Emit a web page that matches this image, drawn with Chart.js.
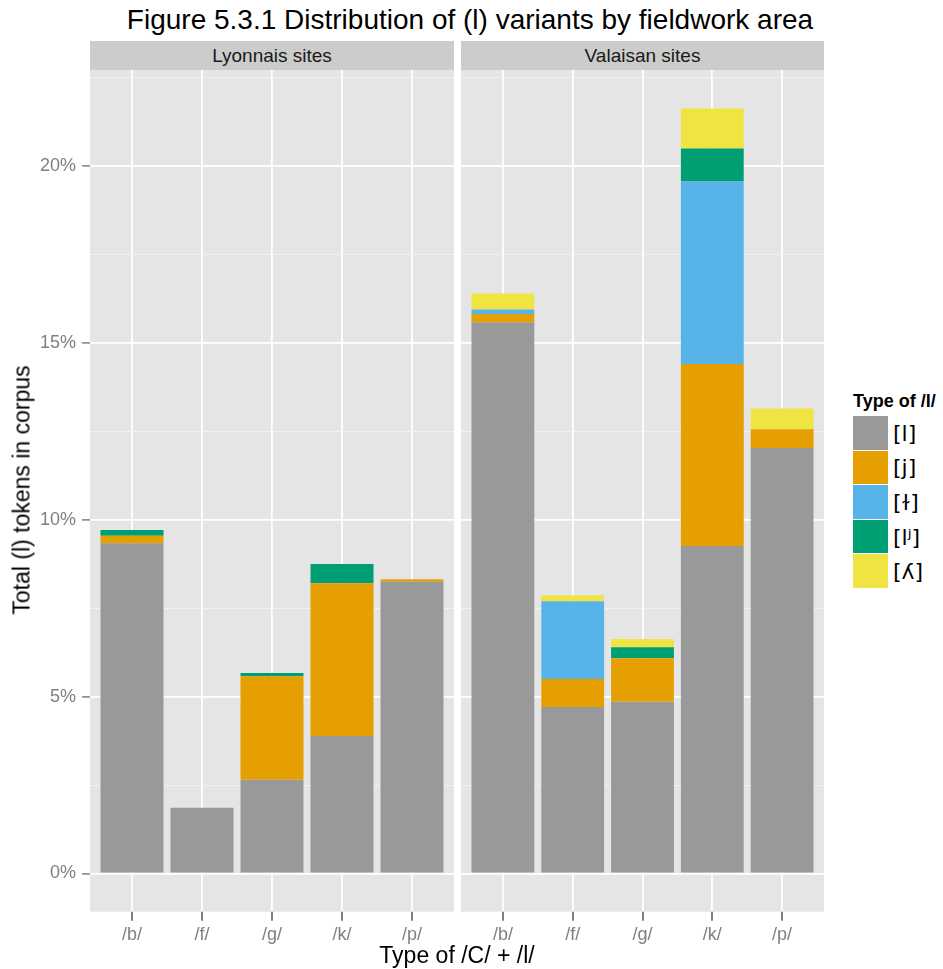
<!DOCTYPE html>
<html>
<head>
<meta charset="utf-8">
<script src="https://cdn.jsdelivr.net/npm/chart.js@4"></script>
<style>
  body { margin: 0; background: #fff; font-family: "Liberation Sans", Arial, sans-serif; }
  #wrap { position: relative; width: 943px; height: 969px; overflow: hidden; }
  .abs { position: absolute; }
  #title { left: 0; width: 940px; top: 4px; text-align: center; font-size: 28px; line-height: 32px; color: #000; }
  .strip { top: 41px; height: 29px; background: #cccccc; color: #1a1a1a; font-size: 19px; line-height: 29px; text-align: center; }
  #ytitle { left: 22px; top: 490px; transform: translate(-50%, -50%) rotate(-90deg); white-space: nowrap; font-size: 23px; color: #000; }
  #xtitle { left: 457px; top: 955px; transform: translate(-50%, -50%); white-space: nowrap; font-size: 23px; color: #000; }
  #legend { left: 853px; top: 390px; }
  #legend .lt { font-weight: bold; font-size: 18px; line-height: 22px; margin-bottom: 4px; }
  #legend .item { display: flex; align-items: center; height: 34.6px; }
  #legend .key { width: 35px; height: 33.6px; margin-bottom: 1px; }
  #legend .lab { margin-left: 5px; font-size: 22px; font-family: "DejaVu Sans", "Liberation Sans", sans-serif; }
  canvas { position: absolute; }
</style>
</head>
<body>
<div id="wrap">
  <div id="title" class="abs">Figure 5.3.1 Distribution of (l) variants by fieldwork area</div>
  <div class="abs strip" style="left:90px;width:364px;">Lyonnais sites</div>
  <div class="abs strip" style="left:461px;width:363px;">Valaisan sites</div>
  <canvas id="lyon" width="454" height="900" style="left:0;top:70px;"></canvas>
  <canvas id="val" width="363" height="900" style="left:461px;top:70px;"></canvas>
  <div id="ytitle" class="abs">Total (l) tokens in corpus</div>
  <div id="xtitle" class="abs">Type of /C/ + /l/</div>
  <div id="legend" class="abs"></div>
</div>
<script>
// Consonant preceding /l/
const categories = ['/b/', '/f/', '/g/', '/k/', '/p/'];
// Realisations of /l/ and their fills
const variants = ['[l]', '[j]', '[ɫ]', '[lʲ]', '[ʎ]'];
const variantColors = ['#999999', '#E69F00', '#56B4E9', '#009E73', '#F0E442'];

// Share of all (l) tokens in the corpus (%), Lyonnais sites
const lyonL      = [9.34, 1.86, 2.65, 3.89, 8.25];
const lyonJ      = [0.21, 0.00, 2.93, 4.32, 0.07];
const lyonDark   = [0.00, 0.00, 0.00, 0.00, 0.00];
const lyonPal    = [0.16, 0.00, 0.09, 0.54, 0.00];
const lyonTurned = [0.00, 0.00, 0.00, 0.00, 0.00];

// Share of all (l) tokens in the corpus (%), Valaisan sites
const valL      = [15.59, 4.71, 4.86, 9.26, 12.03];
const valJ      = [0.23, 0.79, 1.23, 5.15, 0.53];
const valDark   = [0.13, 2.20, 0.00, 5.16, 0.00];
const valPal    = [0.00, 0.00, 0.31, 0.93, 0.00];
const valTurned = [0.45, 0.17, 0.23, 1.13, 0.59];

// Labelled y ticks and the minor grid between them
const yTicks = [0, 5, 10, 15, 20];
const yMinor = [2.5, 7.5, 12.5, 17.5, 22.5];

const FONT = '"Liberation Sans", Arial, sans-serif';

// Grey panel background behind the grid
const panelBg = {
  id: 'panelBg',
  beforeDraw(chart) {
    const { ctx, chartArea: a } = chart;
    ctx.save();
    ctx.fillStyle = '#e5e5e5';
    ctx.fillRect(a.left, a.top, a.right - a.left, a.bottom - a.top);
    ctx.restore();
  }
};

// Short tick marks under the panel at each category position
const xTickMarks = {
  id: 'xTickMarks',
  afterDraw(chart) {
    const { ctx, chartArea: a } = chart;
    const xs = chart.scales.x;
    ctx.save();
    ctx.fillStyle = '#7f7f7f';
    categories.forEach((c, i) => {
      const px = Math.round(xs.getPixelForValue(i + 1));
      ctx.fillRect(px - 1, a.bottom, 2, 9);
    });
    ctx.restore();
  }
};

function zeroPad(s) {
  s.paddingTop = 0; s.paddingBottom = 0; s.paddingLeft = 0; s.paddingRight = 0;
}

function makePanel(id, series, showY) {
  const isMajor = v => yTicks.includes(v);
  const datasets = series.map((vals, k) => ({
    label: variants[k],
    data: vals.map((v, i) => ({ x: i + 1, y: v })),
    backgroundColor: variantColors[k],
    borderWidth: 0,
    barPercentage: 0.9,
    categoryPercentage: 1.0
  }));
  return new Chart(document.getElementById(id), {
    type: 'bar',
    data: { datasets },
    plugins: [panelBg, xTickMarks],
    options: {
      responsive: false,
      animation: false,
      layout: { padding: 0 },
      plugins: { legend: { display: false }, tooltip: { enabled: false } },
      scales: {
        x: {
          type: 'linear',
          stacked: true,
          min: 0.4,
          max: 5.6,
          offset: false,
          afterBuildTicks: s => { s.ticks = categories.map((c, i) => ({ value: i + 1 })); },
          afterFit: s => { s.height = 58.3; zeroPad(s); },
          border: { display: false },
          grid: { offset: false, color: '#ffffff', lineWidth: 1.8, drawTicks: false },
          ticks: {
            autoSkip: false, maxRotation: 0, padding: 13,
            color: '#7f7f7f', font: { size: 18, family: FONT },
            callback: v => categories[v - 1]
          }
        },
        y: {
          stacked: true,
          min: -1.08,
          max: 22.72,
          afterBuildTicks: s => {
            s.ticks = [...yTicks, ...yMinor].sort((a, b) => a - b).map(v => ({ value: v }));
          },
          afterFit: s => { s.width = showY ? 90 : 0; zeroPad(s); },
          border: { display: false },
          grid: {
            color: c => isMajor(c.tick.value) ? '#ffffff' : '#f2f2f2',
            lineWidth: c => isMajor(c.tick.value) ? 1.8 : 0.9,
            tickColor: c => (showY && isMajor(c.tick.value)) ? '#7f7f7f' : 'rgba(0,0,0,0)',
            tickLength: 8,
            tickWidth: 1.5,
            drawTicks: showY
          },
          ticks: {
            display: showY, autoSkip: false, padding: 6,
            color: '#7f7f7f', font: { size: 18, family: FONT },
            callback: v => isMajor(v) ? v + '%' : ''
          }
        }
      }
    }
  });
}

makePanel('lyon', [lyonL, lyonJ, lyonDark, lyonPal, lyonTurned], true);
makePanel('val', [valL, valJ, valDark, valPal, valTurned], false);

// Legend for the fill variable
const legend = document.getElementById('legend');
const lt = document.createElement('div');
lt.className = 'lt';
lt.textContent = 'Type of /l/';
legend.appendChild(lt);
variants.forEach((name, k) => {
  const item = document.createElement('div');
  item.className = 'item';
  const key = document.createElement('div');
  key.className = 'key';
  key.style.background = variantColors[k];
  const lab = document.createElement('div');
  lab.className = 'lab';
  lab.textContent = name;
  item.appendChild(key);
  item.appendChild(lab);
  legend.appendChild(item);
});
</script>
</body>
</html>
